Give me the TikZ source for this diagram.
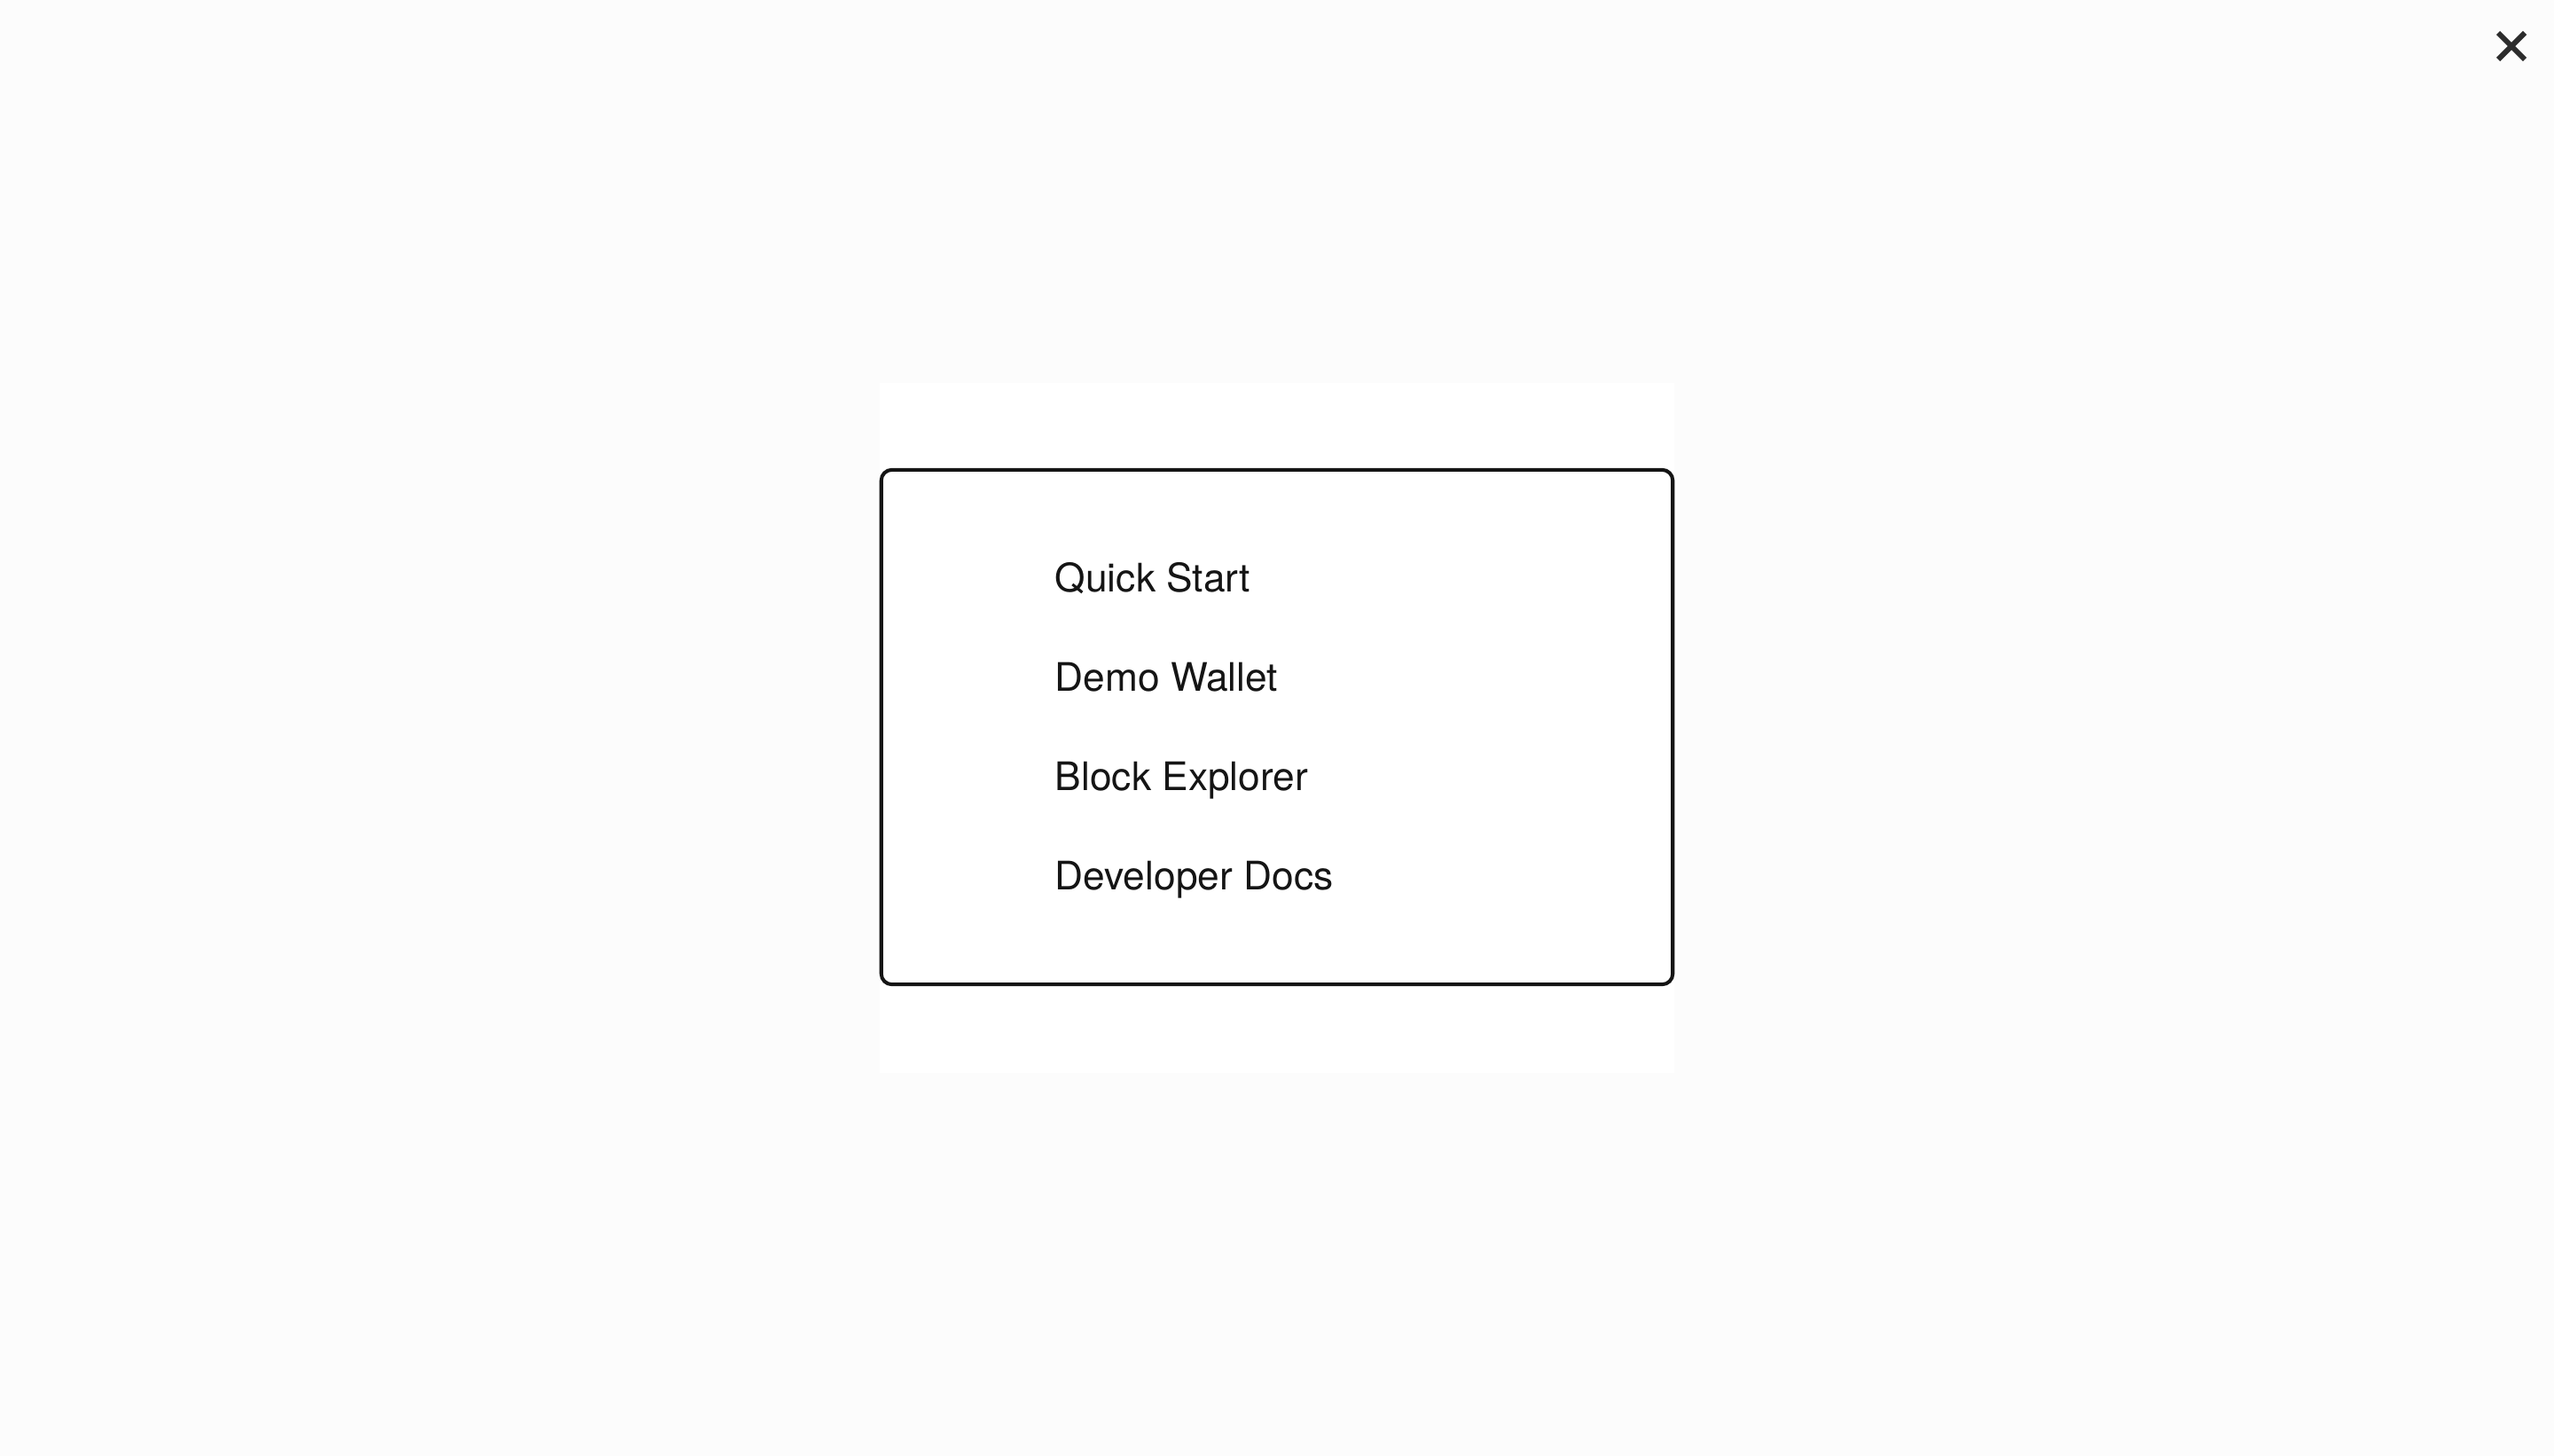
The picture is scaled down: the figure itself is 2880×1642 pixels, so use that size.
\documentclass[tikz,border=0pt]{standalone}
\usepackage{fontspec}
\setmainfont{TeX Gyre Heros}
\usetikzlibrary{positioning}
\definecolor{pagebg}{HTML}{FCFCFC}
\definecolor{ink}{HTML}{151515}
\tikzset{menubox/.style={draw=ink, line width=1.15pt, rounded corners=0.12cm,
    minimum width=8.92cm, minimum height=5.8cm, inner sep=0pt},
  menuitem/.style={anchor=base west, inner sep=0pt, text=ink,
    font=\fontsize{12.6}{14}\selectfont},
  closemark/.style={draw=ink!90, line width=1.7pt}}

\begin{document}
\begin{tikzpicture}[x=0.01cm, y=-0.01cm]
    \useasboundingbox[fill=pagebg] (0,0) rectangle (2880,1642);
    \fill[white] (992,432) rectangle (1888,1210);
    \node[menubox] (menu) at (1440,820) {};
    \foreach \name [count=\i] in {Quick Start, Demo Wallet, Block Explorer, Developer Docs}
        \node[menuitem] (item\i) at (1189,{667+112*(\i-1)}) {\name};
    % close button
    \coordinate (close) at (2832,52);
    \draw[closemark] ([shift={(-15,-15)}]close) -- ([shift={(15,15)}]close);
    \draw[closemark] ([shift={(-15,15)}]close) -- ([shift={(15,-15)}]close);
\end{tikzpicture}
\end{document}
